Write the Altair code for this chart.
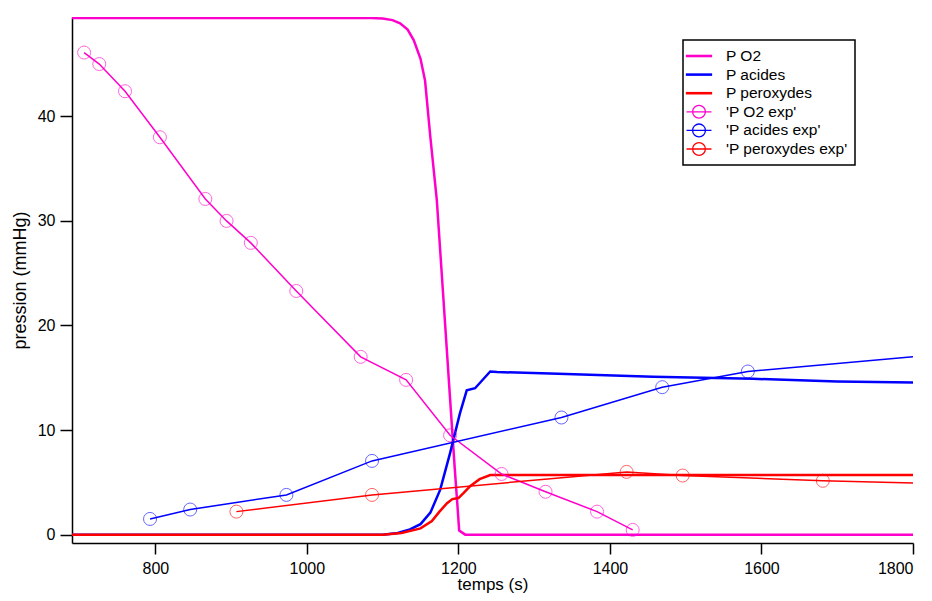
import altair as alt
import pandas as pd

# ---------------- data ----------------
series_names = ["P O2", "P acides", "P peroxydes",
                "'P O2 exp'", "'P acides exp'", "'P peroxydes exp'"]
series_colors = ["#ff00cc", "#0000ff", "#ff0000",
                 "#ff00cc", "#0000ff", "#ff0000"]

# model curves
o2_t = [690, 1085, 1100, 1113, 1123, 1133, 1141, 1150, 1156, 1163, 1171.5,
        1180, 1189, 1195, 1199, 1201, 1209, 1800]
o2_p = [49.4, 49.4, 49.35, 49.2, 48.9, 48.3, 47.3, 45.5, 43.4, 38.0, 32.0,
        22.8, 13.0, 6.5, 2.5, 0.4, 0.0, 0.0]

acides_t = [690, 1100, 1120, 1136, 1150, 1163, 1176, 1189, 1202, 1211, 1222,
            1242, 1251, 1321, 1457, 1589, 1700, 1800]
acides_p = [0.0, 0.0, 0.15, 0.5, 1.0, 2.1, 4.3, 7.8, 11.6, 13.8, 14.0,
            15.6, 15.55, 15.4, 15.1, 14.9, 14.64, 14.54]

perox_t = [690, 1100, 1125, 1150, 1165, 1175, 1185, 1192, 1200, 1207, 1215,
           1228, 1242, 1800]
perox_p = [0.0, 0.0, 0.15, 0.6, 1.3, 2.2, 3.0, 3.4, 3.5, 4.0, 4.6,
           5.3, 5.7, 5.7]

# experimental points
o2_exp_t = [706, 726, 760, 806, 866, 894, 926, 986, 1071, 1131, 1189, 1257,
            1315, 1383, 1430]
o2_exp_p = [46.1, 45.0, 42.4, 38.0, 32.1, 30.0, 27.9, 23.3, 17.0, 14.8, 9.5,
            5.8, 4.1, 2.2, 0.45]

acides_exp_t = [793, 846, 973, 1086, 1336, 1469, 1582]
acides_exp_p = [1.5, 2.4, 3.8, 7.05, 11.2, 14.1, 15.6]
acides_exp_edge = (1800, 17.0)   # where the line leaves the plot

perox_exp_t = [907, 1086, 1422, 1496, 1681]
perox_exp_p = [2.2, 3.8, 6.0, 5.65, 5.15]
perox_exp_edge = (1800, 4.93)

x_ticks = [800, 1000, 1200, 1400, 1600, 1800]
y_ticks = [0, 10, 20, 30, 40]

# ---------------- tables ----------------
def long(name, ts, ps):
    return pd.DataFrame({"series": name, "t": ts, "p": ps})

model_df = pd.concat([
    long(series_names[0], o2_t, o2_p),
    long(series_names[1], acides_t, acides_p),
    long(series_names[2], perox_t, perox_p),
], ignore_index=True)

exp_pt_df = pd.concat([
    long(series_names[3], o2_exp_t, o2_exp_p),
    long(series_names[4], acides_exp_t, acides_exp_p),
    long(series_names[5], perox_exp_t, perox_exp_p),
], ignore_index=True)

exp_line_df = pd.concat([
    long(series_names[3], o2_exp_t, o2_exp_p),
    long(series_names[4], acides_exp_t + [acides_exp_edge[0]], acides_exp_p + [acides_exp_edge[1]]),
    long(series_names[5], perox_exp_t + [perox_exp_edge[0]], perox_exp_p + [perox_exp_edge[1]]),
], ignore_index=True)

legend_df = pd.DataFrame({"series": series_names})

# ---------------- encodings ----------------
FONT = "Liberation Sans"
x_enc = alt.X("t:Q",
              scale=alt.Scale(domain=[690, 1800], nice=False, zero=False),
              axis=alt.Axis(values=x_ticks, title="temps (s)", format="d"))
y_enc = alt.Y("p:Q",
              scale=alt.Scale(domain=[-0.8, 49.5], nice=False, zero=False),
              axis=alt.Axis(values=y_ticks, title="pression (mmHg)", format="d"))
color_scale = alt.Scale(domain=series_names, range=series_colors)

# legend glyphs: a thick line (thin stroked bar) / a thin line with an open circle
line_sym = "M-1.56,-0.08L1.56,-0.08L1.56,0.08L-1.56,0.08Z"
k = 0.44
r = 0.8
circ_sym = (f"M-1.56,0L1.56,0"
            f"M{r},0C{r},{k} {k},{r} 0,{r}C-{k},{r} -{r},{k} -{r},0"
            f"C-{r},-{k} -{k},-{r} 0,-{r}C{k},-{r} {r},-{k} {r},0")
shape_range = [line_sym, line_sym, line_sym, circ_sym, circ_sym, circ_sym]

leg = alt.Legend(title=None, orient="none", legendX=611, legendY=23,
                 strokeColor="black", fillColor="white", padding=7,
                 labelFont=FONT, labelFontSize=15.5, labelColor="black",
                 symbolSize=256, symbolStrokeWidth=1.3, labelOffset=18,
                 rowPadding=0.6, symbolFillColor="transparent",
                 symbolOpacity=1)

legend_layer = alt.Chart(legend_df).mark_point(filled=False, clip=True).encode(
    x=alt.value(-60), y=alt.value(-60),
    color=alt.Color("series:N", scale=color_scale, legend=leg),
    shape=alt.Shape("series:N", scale=alt.Scale(domain=series_names, range=shape_range), legend=leg),
)

model_lines = alt.Chart(model_df).mark_line(strokeWidth=2.5, clip=True).encode(
    x=x_enc, y=y_enc,
    color=alt.Color("series:N", scale=color_scale),
    detail="series:N",
)

exp_lines = alt.Chart(exp_line_df).mark_line(strokeWidth=1.5, clip=True).encode(
    x=x_enc, y=y_enc,
    color=alt.Color("series:N", scale=color_scale),
    detail="series:N",
)

exp_points = alt.Chart(exp_pt_df).mark_point(
    shape="circle", filled=False, size=169, strokeWidth=1, opacity=0.6, clip=True
).encode(
    x=x_enc, y=y_enc,
    color=alt.Color("series:N", scale=color_scale),
)

chart = alt.layer(legend_layer, model_lines, exp_lines, exp_points).properties(
    width=841, height=526,
    padding={"left": 64, "top": 9, "right": 5, "bottom": 50},
    autosize=alt.AutoSizeParams(type="none"),
).configure_view(stroke=None).configure_axis(
    labelFont=FONT, titleFont=FONT, labelFontSize=16, titleFontSize=18,
    labelColor="black", titleColor="black", titleFontWeight="normal",
    domainColor="black", domainWidth=1.5, tickColor="black", tickWidth=1.5,
    grid=False,
).configure_axisX(tickSize=11, labelPadding=6, titlePadding=0, titleFontSize=17
).configure_axisY(tickSize=12, labelPadding=5, titlePadding=8
).configure_legend(strokeWidth=1.5)

chart.save("out.html", embed_options={"renderer": "svg", "actions": False})
